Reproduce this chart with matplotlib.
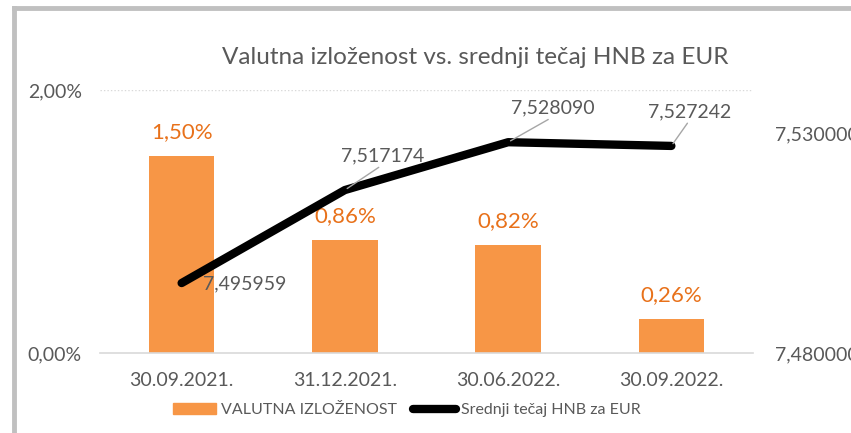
import matplotlib
matplotlib.use("Agg")
import matplotlib.pyplot as plt
from matplotlib.lines import Line2D
from matplotlib.patches import Patch
from matplotlib.ticker import FuncFormatter

# data
categories = ["30.09.2021.", "31.12.2021.", "30.06.2022.", "30.09.2022."]
izlozenost = [1.50, 0.86, 0.82, 0.26]          # %
tecaj = [7.495959, 7.517174, 7.528090, 7.527242]
tecaj_labels = ["7,495959", "7,517174", "7,528090", "7,527242"]

ORANGE = "#F79646"
ORANGE_TXT = "#E8711A"
GREY_TXT = "#595959"

plt.rcParams["font.family"] = ["Lato", "DejaVu Sans"]

fig = plt.figure(figsize=(8.51, 4.33), dpi=100)
W, H = 851, 433
ax = fig.add_axes([100 / W, 1 - 353 / H, 653 / W, 263 / H])
ax2 = ax.twinx()

x = list(range(len(categories)))
ax.bar(x, izlozenost, width=0.4, color=ORANGE, zorder=2)
ax.set_xlim(-0.5, 3.5)
ax.set_ylim(0, 2.0)
ax.set_yticks([0, 2.0])
ax.yaxis.set_major_formatter(FuncFormatter(lambda v, _: f"{v:.2f}%".replace(".", ",")))
ax.set_xticks(x)
ax.set_xticklabels(categories)
ax.tick_params(axis="y", length=0, pad=13, labelsize=14, labelcolor=GREY_TXT)
ax.tick_params(axis="x", length=0, pad=14, labelsize=14, labelcolor=GREY_TXT)
for s in ["top", "right", "left"]:
    ax.spines[s].set_visible(False)
ax.spines["bottom"].set_color("#D9D9D9")
ax.spines["bottom"].set_linewidth(1.2)
ax.axhline(2.0, color="#D9D9D9", lw=1, ls=(0, (1, 1.5)), zorder=1)

for xi, v in zip(x, izlozenost):
    ax.annotate(f"{v:.2f}%".replace(".", ","), (xi, v), xytext=(0, 14),
                textcoords="offset pixels", ha="center", va="bottom",
                fontsize=16, color=ORANGE_TXT)

ax2.plot(x, tecaj, color="black", lw=6, solid_capstyle="round",
         solid_joinstyle="round", zorder=3)
ax2.set_ylim(7.48, 7.54)
ax2.set_yticks([7.48, 7.53])
ax2.yaxis.set_major_formatter(FuncFormatter(lambda v, _: f"{v:.6f}".replace(".", ",")))
ax2.tick_params(axis="y", length=0, pad=16, labelsize=14, labelcolor=GREY_TXT)
for s in ax2.spines.values():
    s.set_visible(False)

offsets = [(63, -1), (38, 34), (45, 34), (18, 34)]
for i, (xi, v) in enumerate(zip(x, tecaj)):
    arrow = None
    if i > 0:
        arrow = dict(arrowstyle="-", color="#A6A6A6", lw=1, relpos=(0.5, 0),
                     shrinkA=0, shrinkB=2)
    ax2.annotate(tecaj_labels[i], (xi, v), xytext=offsets[i],
                 textcoords="offset pixels", ha="center", va="center",
                 fontsize=14, color=GREY_TXT, arrowprops=arrow, zorder=4)

fig.text(475 / W, 1 - 57 / H, "Valutna izloženost vs. srednji tečaj HNB za EUR",
         ha="center", va="center", fontsize=17.5, color=GREY_TXT)

handles = [Patch(color=ORANGE), Line2D([], [], color="black", lw=6, solid_capstyle="round")]
fig.legend(handles, ["VALUTNA IZLOŽENOST", "Srednji tečaj HNB za EUR"],
           loc="center", bbox_to_anchor=(407 / W, 1 - 410 / H), ncol=2,
           frameon=False, fontsize=11.5, labelcolor=GREY_TXT, handlelength=2.7,
           handletextpad=0.3, columnspacing=1.0)

# chart frame
fig.add_artist(Line2D([14 / W, 1], [1 - 8 / H, 1 - 8 / H], color="#C0C0C0", lw=3.5))
fig.add_artist(Line2D([14 / W, 14 / W], [0, 1 - 8 / H], color="#C0C0C0", lw=3.5))

fig.savefig("out.png", dpi=100)
